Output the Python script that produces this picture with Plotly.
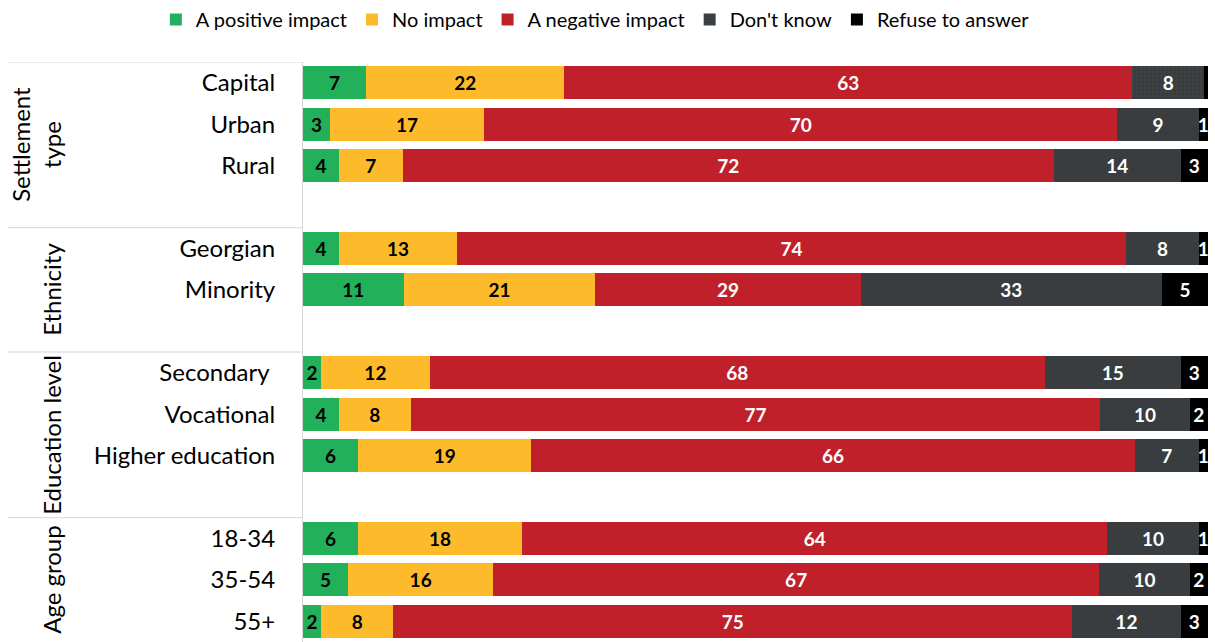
import plotly.graph_objects as go

groups = ["Settlement<br>type", "Ethnicity", "Education level", "Age group"]
group_cats = [
    ["Capital", "Urban", "Rural"],
    ["Georgian", "Minority"],
    ["Secondary ", "Vocational", "Higher education"],
    ["18-34", "35-54", "55+"],
]
series = ["A positive impact", "No impact", "A negative impact", "Don't know", "Refuse to answer"]
colors = ["#22B15A", "#FDBB2C", "#C0202A", "#3A3D40", "#000000"]
text_colors = ["black", "black", "white", "white", "white"]

positive = [7, 3, 4, 4, 11, 2, 4, 6, 6, 5, 2]
no_impact = [22, 17, 7, 13, 21, 12, 8, 19, 18, 16, 8]
negative = [63, 70, 72, 74, 29, 68, 77, 66, 64, 67, 75]
dont_know = [8, 9, 14, 8, 33, 15, 10, 7, 10, 10, 12]
refuse = [0.4, 1, 3, 1, 5, 3, 2, 1, 1, 2, 3]
values = [positive, no_impact, negative, dont_know, refuse]

# slot positions: one empty slot between groups
cats, pos, group_spans = [], [], []
idx = 0
for g, cl in zip(groups, group_cats):
    start = idx
    for c in cl:
        cats.append(c)
        pos.append(idx)
        idx += 1
    end = idx - 1
    group_spans.append((start, end))
    idx += 1  # gap slot
last = pos[-1]

FONT = "Lato"
fig = go.Figure()
for k, (s, col, tc, vals) in enumerate(zip(series, colors, text_colors, values)):
    marker = dict(color=col, line=dict(width=0))
    if s == "Don't know":
        marker["pattern"] = dict(shape=["."] + [""] * (len(vals) - 1), fgcolor="#4b4e51",
                                 bgcolor=col, size=4, solidity=0.2, fillmode="overlay")
    fig.add_trace(go.Bar(
        y=pos, x=vals, orientation="h", name=s,
        marker=marker,
        text=[f"{v:.0f}" if v >= 1 else "" for v in vals],
        texttemplate="%{text}",
        textposition="inside", insidetextanchor="middle", textangle=0,
        constraintext="none",
        textfont=dict(family=FONT, size=19, color=tc, weight="bold"),
        cliponaxis=False, hoverinfo="skip",
    ))

L, R, T, B = 303, 7, 62, 0
W, H = 1215, 642
pw = W - L - R
ph = H - T - B

shapes = []
line_col = "#D6D6D6"
x0_paper = (8 - L) / pw
for (s, e) in group_spans:
    shapes.append(dict(type="line", xref="paper", yref="y", x0=x0_paper, x1=0, y0=s - 0.5, y1=s - 0.5,
                       line=dict(color=line_col, width=1)))

annotations = []
for i, (g, (s, e)) in enumerate(zip(groups, group_spans)):
    top = s - 0.5
    bot = e + 1.5 if i < len(groups) - 1 else last + 0.5
    yc = (top + bot) / 2
    xpx = 36 if "<br>" in g else 52
    annotations.append(dict(
        x=(xpx - L) / pw, xref="paper", y=yc, yref="y", text=g, textangle=-90,
        showarrow=False, font=dict(family=FONT, size=24, color="black"),
        xanchor="center", yanchor="middle", align="center"))

fig.update_layout(
    width=W, height=H,
    margin=dict(l=L, r=R, t=T, b=B, autoexpand=False),
    barmode="stack", barnorm="percent", bargap=0.2,
    plot_bgcolor="white", paper_bgcolor="white",
    font=dict(family=FONT, color="black"),
    showlegend=True,
    legend=dict(orientation="h", xref="container", yref="container",
                x=0.49, xanchor="center", y=1.0, yanchor="top",
                font=dict(family=FONT, size=20, color="black"), traceorder="normal",
                itemwidth=30, bgcolor="rgba(0,0,0,0)"),
    xaxis=dict(range=[0, 100.02], visible=False, fixedrange=True),
    yaxis=dict(range=[last + 0.5, -0.5], tickvals=pos, ticktext=cats,
               tickfont=dict(family=FONT, size=24, color="black"),
               showgrid=False, zeroline=False, showline=True, linecolor=line_col, linewidth=1,
               ticks="", ticklabelstandoff=22),
    shapes=shapes, annotations=annotations,
    uniformtext=dict(mode=False),
)
fig.write_html("out.html", config={"displayModeBar": False},
               post_script="document.body.style.margin='0px';")
